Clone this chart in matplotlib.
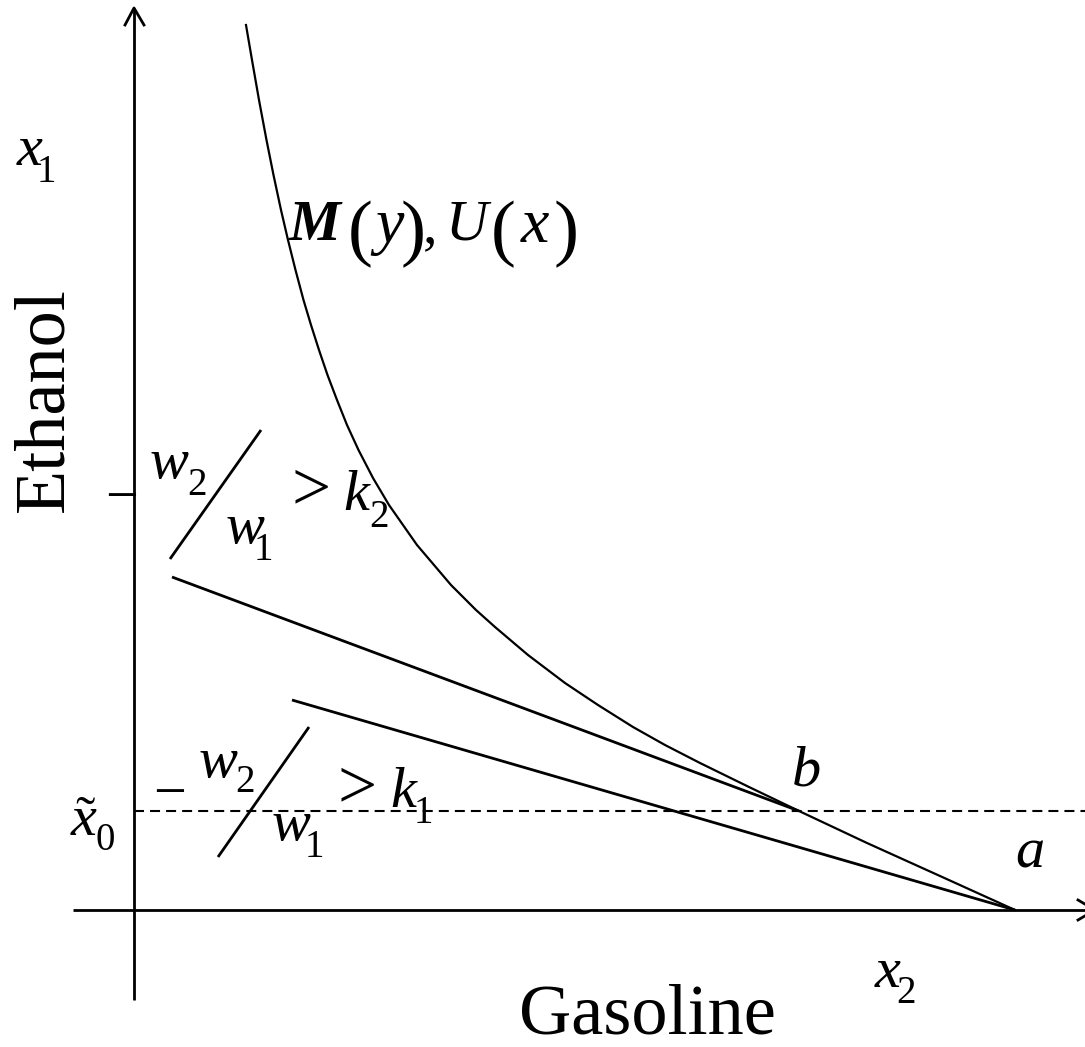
"""Ethanol vs gasoline schematic: iso-cost curve M(y),U(x) with two budget lines."""
import matplotlib
matplotlib.use("Agg")
import matplotlib.pyplot as plt

plt.rcParams["font.family"] = ["Liberation Serif", "DejaVu Serif"]

# origin of the diagram is the axis crossing; x = gasoline, y = ethanol
curve_x = [112, 118, 125, 132.5, 139.5, 147, 154, 161.5, 169.5, 177, 185,
           193.5, 203, 213, 224.5, 239, 255, 283, 317, 342, 361, 394, 431,
           464, 499, 531, 566, 615, 665, 733, 806, 881]
curve_y = [885, 850, 810, 770, 735, 700, 670, 640, 610, 585, 560,
           535, 510, 485, 460, 432, 405, 365, 325, 300, 283, 255, 227,
           205, 183, 165, 147, 123, 99, 67, 34, 0]

upper_line_x = [38, 665]
upper_line_y = [333, 99]
lower_line_x = [158, 881]
lower_line_y = [210, 0]

slash_hi_x = [36, 127]
slash_hi_y = [351, 480]
slash_lo_x = [84, 175]
slash_lo_y = [53, 183]

x0_level = 99          # x~0 dashed threshold
dash_x = [0, 951]

yaxis_x = [0, 0]
yaxis_y = [-90, 902]
xaxis_x = [-61, 960]
xaxis_y = [0, 0]
yhead_x = [-9, 0, 10]
yhead_y = [885, 902, 885]
xhead_x = [944, 961, 944]
xhead_y = [10, 0, -10]

fig = plt.figure(figsize=(10.85, 10.47), dpi=100)
ax = fig.add_axes([0, 0, 1, 1])
ax.set_xlim(-134, 951)
ax.set_ylim(-137, 910)
ax.axis("off")

k = dict(color="black", solid_capstyle="butt")
ax.plot(yaxis_x, yaxis_y, lw=2.0, **k)
ax.plot(xaxis_x, xaxis_y, lw=2.0, **k)
ax.plot(yhead_x, yhead_y, lw=2.0, color="black")
ax.plot(xhead_x, xhead_y, lw=2.0, color="black")

ax.plot(curve_x, curve_y, lw=1.6, color="black", solid_joinstyle="round")
ax.plot(upper_line_x, upper_line_y, lw=2.0, **k)
ax.plot(lower_line_x, lower_line_y, lw=2.0, **k)
ax.plot(slash_hi_x, slash_hi_y, lw=2.0, **k)
ax.plot(slash_lo_x, slash_lo_y, lw=2.0, **k)
ax.plot(dash_x, [x0_level, x0_level], lw=1.5, color="black",
        dashes=(4.8, 2.9))

big = 42
sub = 28
par = 54


def t(x, y, s, size=big, style="italic", weight="normal", **kw):
    ax.text(x, y, s, fontsize=size, style=style, weight=weight,
            ha="center", va="baseline", **kw)


# axis symbols
t(-104, 745, "x")
t(-88, 728, "1", sub, "normal")
t(754, -77, "x")
t(772, -93, "2", sub, "normal")
t(-50, 75, "x")
t(-49, 75, "\u02dc", big, "normal")
t(-29, 60, "0", sub, "normal")

# M(y),U(x)
t(181, 670, "M", weight="bold")
t(226, 658, "(", par, "normal")
t(256, 668, "y", 46)
t(279, 658, ")", par, "normal")
t(296, 668, ",", big, "normal")
t(333, 670, "U")
t(369, 658, "(", par, "normal")
t(401, 668, "x", 46)
t(432, 658, ")", par, "normal")

# -w2/w1 > k2
t(-12, 396, "\u2212", big, "normal")
t(35, 432, "w")
t(63, 415, "2", sub, "normal")
t(111, 367, "w")
t(129, 350, "1", sub, "normal")
t(177, 401, ">", 50, "normal")
t(222, 400, "k")
t(245, 383, "2", sub, "normal")

# -w2/w1 > k1
t(36, 100, "\u2212", big, "normal")
t(84, 133, "w")
t(111, 118, "2", sub, "normal")
t(157, 70, "w")
t(180, 53, "1", sub, "normal")
t(223, 103, ">", 50, "normal")
t(269, 103, "k")
t(289, 87, "1", sub, "normal")

t(672, 125, "b")
t(896, 42, "a")

ax.text(-89, 510, "Ethanol", fontsize=52, rotation=90,
        ha="center", va="center")
t(513, -123, "Gasoline", 52, "normal")

fig.savefig("out.png", dpi=100)
